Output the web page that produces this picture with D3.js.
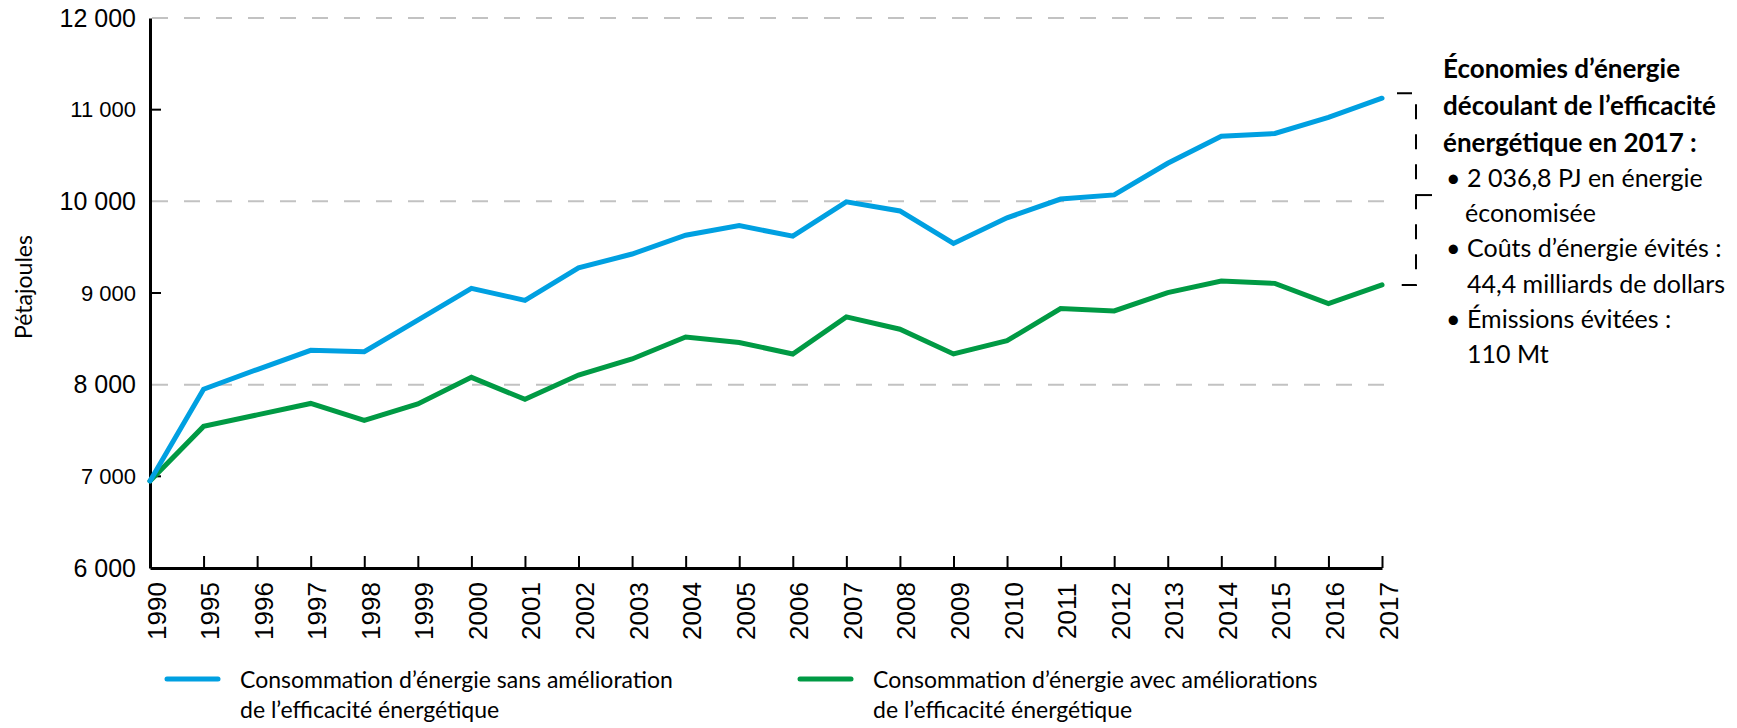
<!DOCTYPE html>
<html lang="fr">
<head>
    <meta charset="UTF-8">
    <title>Consommation d'énergie</title>
    <script src="https://d3js.org/d3.v7.min.js"></script>
    <style>
        body { margin: 0; background: #fff; }
        svg { font-family: Lato, "Open Sans", sans-serif; }
        .axis path, .axis line { stroke: #000; }
        .grid line { stroke: #c2c2c2; stroke-width: 2; stroke-dasharray: 16,16; }
        .note-title { font-weight: bold; font-size: 26px; }
        .note { font-size: 25px; }
    </style>
</head>
<body>
    <svg width="1737" height="728"></svg>

    <script>
        const years = ["1990", "1995", "1996", "1997", "1998", "1999", "2000", "2001", "2002", "2003",
            "2004", "2005", "2006", "2007", "2008", "2009", "2010", "2011", "2012", "2013",
            "2014", "2015", "2016", "2017"];

        // sans amélioration de l'efficacité
        const sansAmelioration = [6950, 7950, 8165, 8375, 8360, 8705, 9050, 8920, 9275, 9425,
            9630, 9735, 9620, 9995, 9895, 9540, 9820, 10025, 10070, 10415,
            10710, 10740, 10915, 11125];

        // avec améliorations
        const avecAmeliorations = [6950, 7545, 7670, 7795, 7610, 7790, 8080, 7840, 8105, 8280,
            8520, 8460, 8335, 8740, 8605, 8335, 8480, 8830, 8805, 9005,
            9130, 9105, 8885, 9088];

        const yTicks = [6000, 7000, 8000, 9000, 10000, 11000, 12000];
        const yTickLabels = ["6 000", "7 000", "8 000", "9 000", "10 000", "11 000", "12 000"];
        const gridValues = [8000, 10000, 12000];

        const legendLabels = [
            ["Consommation d’énergie sans amélioration", "de l’efficacité énergétique"],
            ["Consommation d’énergie avec améliorations", "de l’efficacité énergétique"]
        ];
        const noteTitle = ["Économies d’énergie", "découlant de l’efficacité", "énergétique en 2017 :"];
        const noteBullets = [
            ["2 036,8 PJ en énergie", "économisée"],
            ["Coûts d’énergie évités :", "44,4 milliards de dollars"],
            ["Émissions évitées :", "110 Mt"]
        ];

        const blue = "#00a0e1", green = "#009a44";

        const svg = d3.select("svg");
        const plotLeft = 150, plotRight = 1382, plotTop = 18, plotBottom = 568;

        const x = d3.scalePoint().domain(years).range([plotLeft, plotRight]);
        const y = d3.scaleLinear().domain([6000, 12000]).range([plotBottom, plotTop]);

        // gridlines
        svg.append("g").attr("class", "grid")
            .selectAll("line")
            .data(gridValues)
            .join("line")
            .attr("x1", plotLeft + 2)
            .attr("x2", plotRight + 2)
            .attr("y1", d => y(d))
            .attr("y2", d => y(d));

        // y axis
        const yAxis = svg.append("g")
            .attr("class", "axis")
            .attr("transform", `translate(${plotLeft},0)`)
            .call(d3.axisLeft(y).tickValues(yTicks).tickSize(0).tickPadding(14)
                .tickFormat((d, i) => yTickLabels[i]));
        yAxis.select(".domain").attr("stroke-width", 3);
        yAxis.selectAll("text")
            .attr("font-family", null)
            .style("font-size", d => (d % 2000 === 0 ? "25px" : "22px"))
            .attr("fill", "#000");

        // short inward ticks on odd thousands
        svg.append("g")
            .selectAll("line")
            .data(yTicks.filter(d => d % 2000 !== 0))
            .join("line")
            .attr("x1", plotLeft)
            .attr("x2", plotLeft + 11)
            .attr("y1", d => y(d))
            .attr("y2", d => y(d))
            .attr("stroke", "#000")
            .attr("stroke-width", 2);

        // x axis
        const xAxis = svg.append("g")
            .attr("class", "axis")
            .attr("transform", `translate(0,${plotBottom})`)
            .call(d3.axisBottom(x).tickSizeInner(-12).tickSizeOuter(0));
        xAxis.select(".domain").attr("stroke-width", 3);
        xAxis.selectAll(".tick line").attr("stroke-width", 2);
        xAxis.selectAll(".tick").filter(d => d === "1990").select("line").remove();
        xAxis.selectAll("text")
            .attr("font-family", null)
            .attr("fill", "#000")
            .style("font-size", "26px")
            .attr("y", 0)
            .attr("dy", null)
            .attr("text-anchor", "middle")
            .attr("dominant-baseline", "central")
            .attr("transform", "translate(6,43) rotate(-90)");

        // y axis title
        svg.append("text")
            .attr("transform", "translate(23,287) rotate(-90)")
            .attr("text-anchor", "middle")
            .attr("dominant-baseline", "central")
            .style("font-size", "23px")
            .text("Pétajoules");

        // lines
        const line = d3.line()
            .x((d, i) => x(years[i]))
            .y(d => y(d));

        [[avecAmeliorations, green], [sansAmelioration, blue]].forEach(([vals, col]) => {
            svg.append("path")
                .datum(vals)
                .attr("d", line)
                .attr("fill", "none")
                .attr("stroke", col)
                .attr("stroke-width", 5)
                .attr("stroke-linecap", "round");
        });

        // bracket for 2017 savings
        const last = years.length - 1;
        const yTop = y(sansAmelioration[last]) - 5;
        const yBot = y(avecAmeliorations[last]);
        const bx = plotRight + 34;
        svg.append("path")
            .attr("d", `M${plotRight + 15},${yTop}H${bx}V${yBot}H${plotRight + 15}`)
            .attr("fill", "none")
            .attr("stroke", "#000")
            .attr("stroke-width", 2)
            .attr("stroke-dasharray", "15,15");
        const yMid = (yTop + yBot) / 2 + 6;
        svg.append("line")
            .attr("x1", bx).attr("x2", bx + 16)
            .attr("y1", yMid).attr("y2", yMid)
            .attr("stroke", "#000").attr("stroke-width", 2);

        // annotation text
        const nx = 1443;
        noteTitle.forEach((t, i) => {
            svg.append("text").attr("class", "note-title")
                .attr("x", nx).attr("y", 78 + i * 37)
                .text(t);
        });
        let row = 0;
        noteBullets.forEach((lines, b) => {
            svg.append("text").attr("class", "note")
                .attr("x", nx + 3).attr("y", 187 + row * 35.2)
                .text("•");
            lines.forEach((t, j) => {
                svg.append("text").attr("class", "note")
                    .attr("x", nx + 24 - (b === 0 && j === 1 ? 2 : 0))
                    .attr("y", 187 + row * 35.2)
                    .text(t);
                row++;
            });
        });

        // legend
        const legendX = [167, 800];
        [blue, green].forEach((col, i) => {
            svg.append("line")
                .attr("x1", legendX[i]).attr("x2", legendX[i] + 51)
                .attr("y1", 679).attr("y2", 679)
                .attr("stroke", col).attr("stroke-width", 5)
                .attr("stroke-linecap", "round");
            legendLabels[i].forEach((t, j) => {
                svg.append("text")
                    .attr("x", legendX[i] + 73)
                    .attr("y", 688 + j * 30)
                    .style("font-size", "23px")
                    .text(t);
            });
        });
    </script>
</body>
</html>
